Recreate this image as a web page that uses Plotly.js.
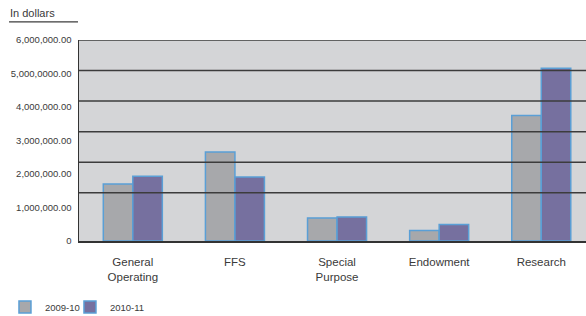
<!DOCTYPE html>
<html>
<head>
<meta charset="utf-8">
<script src="https://cdn.plot.ly/plotly-3.0.1.min.js"></script>
<style>html,body{margin:0;padding:0;background:#fff;}#chart{width:586px;height:316px;}</style>
</head>
<body>
<div id="chart"></div>
<script>
// Data
var categories = ["General Operating", "FFS", "Special Purpose", "Endowment", "Research"];
var categoryLabels = ["General<br>Operating", "FFS", "Special<br>Purpose", "Endowment", "Research"];
var series2009 = [1700000, 2660000, 690000, 310000, 3750000];
var series2010 = [1930000, 1910000, 720000, 490000, 5160000];
var seriesNames = ["2009-10", "2010-11"];
var yTickValues = [0, 1000000, 2000000, 3000000, 4000000, 5000000, 6000000];
var yTickLabels = ["0", "1,000,000.00", "2,000,000.00", "3,000,000.00", "4,000,000.00", "5,000,0000.00", "6,000,000.00"];
var gridValues = [1, 2, 3, 4, 5, 6];

var FONT = '"Liberation Sans", Arial, sans-serif';
var TXT = '#3a3a3a';
var OUTLINE = '#5a9fd6';

var traces = [
  {type: 'bar', name: seriesNames[0], x: categories, y: series2009, legend: 'legend',
   marker: {color: '#a7a8ab', line: {color: OUTLINE, width: 1.5}}},
  {type: 'bar', name: seriesNames[1], x: categories, y: series2010, legend: 'legend2',
   marker: {color: '#76709f', line: {color: OUTLINE, width: 1.5}}}
];

var shapes = gridValues.map(function (v) {
  return {type: 'line', xref: 'paper', x0: 0, x1: 1, yref: 'y2', y0: v, y1: v,
          layer: 'above', line: {color: '#3c3c3c', width: 1.5}};
});
shapes.push({type: 'line', xref: 'paper', yref: 'paper', x0: -0.138, x1: -0.002, y0: 1.09, y1: 1.09,
             line: {color: '#3c3c3c', width: 1.2}});

var legendFont = {family: FONT, size: 9.5, color: TXT};
var layout = {
  width: 586, height: 316,
  margin: {l: 79, r: 0, t: 40, b: 75, pad: 0, autoexpand: false},
  paper_bgcolor: '#ffffff',
  plot_bgcolor: '#d4d5d7',
  font: {family: FONT, size: 11, color: TXT},
  barmode: 'group',
  bargap: 0.422,
  bargroupgap: 0,
  showlegend: true,
  legend: {orientation: 'h', x: -0.146, xanchor: 'left', y: -0.328, yanchor: 'middle',
           font: legendFont, bgcolor: 'rgba(0,0,0,0)'},
  legend2: {orientation: 'h', x: -0.0178, xanchor: 'left', y: -0.328, yanchor: 'middle',
           font: legendFont, bgcolor: 'rgba(0,0,0,0)'},
  xaxis: {type: 'category', range: [-0.527, 4.438], tickmode: 'array',
          tickvals: categories, ticktext: categoryLabels,
          showgrid: false, zeroline: false, showline: true, linecolor: '#333333', linewidth: 1.5,
          ticks: '', ticklabelstandoff: 10,
          tickfont: {family: FONT, size: 11.5, color: TXT}, fixedrange: true},
  yaxis: {range: [0, 6000000], tickmode: 'array', tickvals: yTickValues, ticktext: yTickLabels,
          showgrid: false, zeroline: false, showline: true, linecolor: '#333333', linewidth: 1.5,
          ticks: '', ticklabelstandoff: 4,
          tickfont: {family: FONT, size: 9.5, color: TXT}, fixedrange: true},
  yaxis2: {overlaying: 'y', range: [-0.58, 6], visible: false, fixedrange: true},
  shapes: shapes,
  annotations: [
    {text: 'In dollars', xref: 'paper', yref: 'paper', x: -0.14, y: 1.135, xanchor: 'left', yanchor: 'middle',
     showarrow: false, font: {family: FONT, size: 11, color: TXT}}
  ]
};

Plotly.newPlot('chart', traces, layout, {displayModeBar: false, staticPlot: true});
</script>
</body>
</html>
